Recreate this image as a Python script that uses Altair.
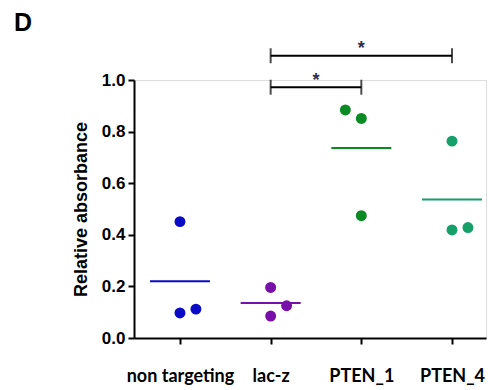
import altair as alt
import pandas as pd

categories = ["non targeting", "lac-z", "PTEN_1", "PTEN_4"]
colors = ["#0b0bc6", "#7710a8", "#0a8a22", "#14a068"]

group_idx = [0, 0, 0, 1, 1, 1, 2, 2, 2, 3, 3, 3]
values = [0.451, 0.097, 0.112,
          0.196, 0.125, 0.085,
          0.884, 0.851, 0.474,
          0.763, 0.419, 0.428]
jitter_side = [0, 0, 1, 0, 1, 0, -1, 0, 0, 0, 0, 1]

bracket_from = [1, 1]
bracket_to = [2, 3]
bracket_level = [0.972, 1.094]
star_level = [1.016, 1.14]
star_text = ["*", "*"]

pts = pd.DataFrame({
    "pos": group_idx,
    "group": [categories[i] for i in group_idx],
    "value": values,
    "side": jitter_side,
})
br = pd.DataFrame({
    "from": bracket_from,
    "to": bracket_to,
    "level": bracket_level,
    "star": star_level,
    "label": star_text,
})

xscale = alt.Scale(domain=[-0.507, 3.375], nice=False, zero=False)
yscale = alt.Scale(domain=[0, 1.0], nice=False)
cscale = alt.Scale(domain=categories, range=colors)

label_expr = "[" + ",".join("'%s'" % c for c in categories) + "][datum.value]"

xaxis = alt.Axis(values=[0, 1, 2, 3], labelExpr=label_expr, title=None,
                 grid=False, domainColor="black", domainWidth=2,
                 tickColor="black", tickWidth=2, tickSize=6,
                 labelFont="Lato", labelFontWeight="bold", labelFontSize=18,
                 labelColor="black", labelPadding=23)
yaxis = alt.Axis(values=[0, 0.2, 0.4, 0.6, 0.8, 1.0], format=".1f",
                 title="Relative absorbance", grid=False,
                 domainColor="black", domainWidth=2,
                 tickColor="black", tickWidth=2, tickSize=6,
                 labelFont="Liberation Sans", labelFontWeight="bold",
                 labelFontSize=17, labelColor="black", labelPadding=3,
                 titleFont="Liberation Sans", titleFontWeight="bold",
                 titleFontSize=18, titleColor="black", titlePadding=11)

base = alt.Chart(pts)

dots = base.transform_calculate(
    xj="datum.pos + datum.side * 0.176"
).mark_circle(size=120, opacity=1).encode(
    x=alt.X("xj:Q", scale=xscale, axis=xaxis),
    y=alt.Y("value:Q", scale=yscale, axis=yaxis),
    color=alt.Color("group:N", scale=cscale, legend=None),
)

means = base.mark_tick(orient="horizontal", size=60, thickness=2).encode(
    x=alt.X("pos:Q", scale=xscale),
    y=alt.Y("mean(value):Q", scale=yscale),
    color=alt.Color("group:N", scale=cscale, legend=None),
)

bchart = alt.Chart(br)
brule = bchart.mark_rule(color="black", strokeWidth=2).encode(
    x=alt.X("from:Q", scale=xscale),
    x2="to:Q",
    y=alt.Y("level:Q", scale=yscale),
)
bends = bchart.transform_fold(["from", "to"], as_=["end", "epos"]).mark_tick(
    orient="vertical", size=15, thickness=2, color="black"
).encode(
    x=alt.X("epos:Q", scale=xscale),
    y=alt.Y("level:Q", scale=yscale),
)
stars = bchart.transform_calculate(
    mid="(datum.from + datum.to) / 2"
).mark_text(font="Liberation Sans", fontSize=18, fontWeight="bold",
            color="#2e2e4e", baseline="middle", dy=5).encode(
    x=alt.X("mid:Q", scale=xscale),
    y=alt.Y("star:Q", scale=yscale),
    text="label:N",
)

chart = alt.layer(means, dots, brule, bends, stars).properties(
    width=352, height=258,
    autosize=alt.AutoSizeParams(type="none"),
    padding={"left": 134, "top": 80, "right": 6, "bottom": 52},
    title=alt.TitleParams("D", anchor="start", frame="group", dx=-120, dy=0,
                          font="Liberation Sans", fontSize=25,
                          fontWeight="bold", color="black"),
).configure_view(stroke=None).configure(background="white")

chart.save("out.html", embed_options={"renderer": "svg", "actions": False})
